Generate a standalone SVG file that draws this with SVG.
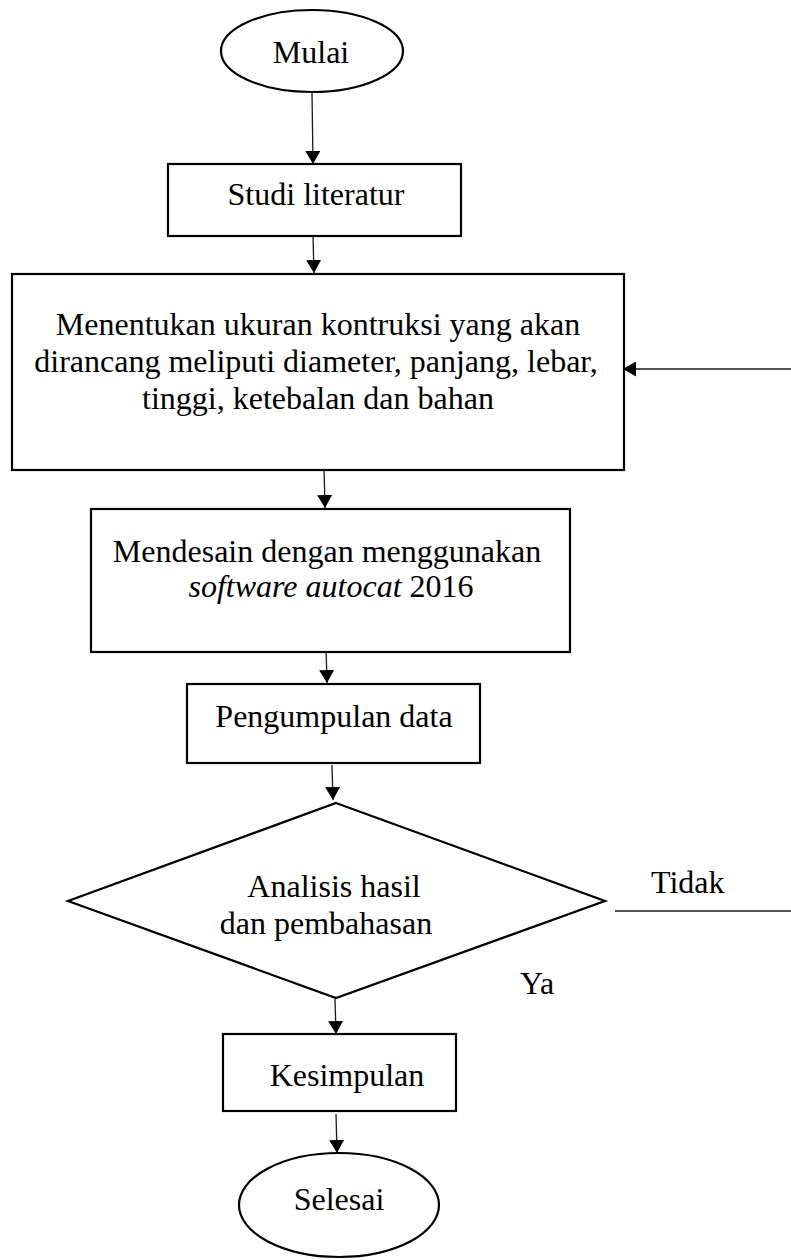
<svg xmlns="http://www.w3.org/2000/svg" width="791" height="1260" viewBox="0 0 791 1260">
<style>
  .shape { fill: #fff; stroke: #000; stroke-width: 2.2; }
  .conn { fill: none; stroke: #1a1a1a; stroke-width: 1.3; }
  text { font-family: "Liberation Serif", "Times New Roman", serif; font-size: 32px; fill: #000; }
  .mid { text-anchor: middle; }
</style>
<defs>
  <marker id="arrow" markerUnits="userSpaceOnUse" markerWidth="14" markerHeight="15" refX="13" refY="7.5" orient="auto">
    <path d="M0,0 L13,7.5 L0,15 Z" fill="#000"/>
  </marker>
</defs>

<g id="connectors">
  <line class="conn" x1="312" y1="93" x2="313" y2="164" marker-end="url(#arrow)"/>
  <line class="conn" x1="313" y1="236" x2="314" y2="273" marker-end="url(#arrow)"/>
  <line class="conn" x1="324" y1="467" x2="325" y2="508" marker-end="url(#arrow)"/>
  <line class="conn" x1="326" y1="648" x2="327" y2="683" marker-end="url(#arrow)"/>
  <line class="conn" x1="332" y1="765" x2="333" y2="800" marker-end="url(#arrow)"/>
  <line class="conn" x1="335" y1="999" x2="336" y2="1034" marker-end="url(#arrow)"/>
  <line class="conn" x1="336" y1="1114" x2="337" y2="1153" marker-end="url(#arrow)"/>
  <line class="conn" x1="791" y1="369" x2="623" y2="369" marker-end="url(#arrow)"/>
  <line class="conn" x1="615" y1="911" x2="791" y2="911"/>
</g>

<g id="mulai">
  <ellipse class="shape" cx="312" cy="51" rx="91" ry="41"/>
  <text class="mid" x="311" y="63">Mulai</text>
</g>

<g id="studi-literatur">
  <rect class="shape" x="168" y="164" width="293" height="72"/>
  <text class="mid" x="316" y="205">Studi literatur</text>
</g>

<g id="menentukan">
  <rect class="shape" x="12" y="274" width="612" height="196"/>
  <text class="mid" x="318" y="335">Menentukan ukuran kontruksi yang akan</text>
  <text class="mid" x="316" y="372">dirancang meliputi diameter, panjang, lebar,</text>
  <text class="mid" x="318" y="409">tinggi, ketebalan dan bahan</text>
</g>

<g id="mendesain">
  <rect class="shape" x="91" y="509" width="479" height="143"/>
  <text class="mid" x="327" y="562">Mendesain dengan menggunakan</text>
  <text class="mid" x="331" y="597"><tspan font-style="italic">software autocat</tspan> 2016</text>
</g>

<g id="pengumpulan">
  <rect class="shape" x="187" y="684" width="293" height="79"/>
  <text class="mid" x="334" y="727">Pengumpulan data</text>
</g>

<g id="analisis">
  <polygon class="shape" points="336,803 605,901 336,998 68,901"/>
  <text class="mid" x="334" y="897">Analisis hasil</text>
  <text class="mid" x="326" y="934">dan pembahasan</text>
</g>

<g id="label-tidak">
  <text x="651" y="893">Tidak</text>
</g>
<g id="label-ya">
  <text x="520" y="994">Ya</text>
</g>

<g id="kesimpulan">
  <rect class="shape" x="223" y="1034" width="233" height="77"/>
  <text class="mid" x="347" y="1086">Kesimpulan</text>
</g>

<g id="selesai">
  <ellipse class="shape" cx="339" cy="1205" rx="100" ry="52"/>
  <text class="mid" x="339" y="1210">Selesai</text>
</g>
</svg>
